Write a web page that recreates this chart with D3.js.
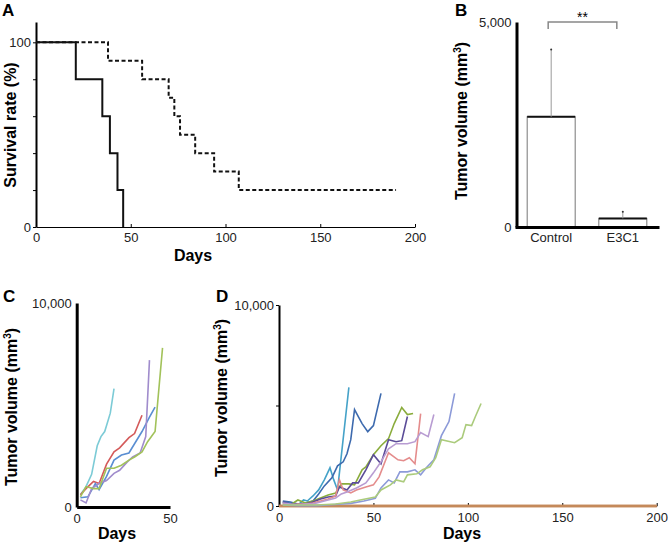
<!DOCTYPE html>
<html>
<head>
<meta charset="utf-8">
<script src="https://cdn.jsdelivr.net/npm/d3@7"></script>
<style>
  body { margin: 0; background: #fff; }
  svg { display: block; font-family: "Liberation Sans", Arial, sans-serif; }
</style>
</head>
<body>
<svg id="chart" width="668" height="545"></svg>
<script>
// ---- A: survival (days, %) ----
const controlSurvival = [[0, 100], [21, 80], [35, 60], [39, 40], [43, 20], [46, 0]];
const e3c1Survival = [[0, 100], [38, 90], [56, 80], [70, 70], [73, 60], [76, 50], [84, 40], [94, 30], [107, 20], [190, 20]];
const dayTicksA = [0, 50, 100, 150, 200];
const survivalTicks = [0, 20, 40, 60, 80, 100];

// ---- B: tumor volume bars ----
const barGroups = ["Control", "E3C1"];
const barMeans = [2690, 210];
const barErrTop = [4330, 370];
const barTicks = [0, 5000];

// ---- C: control mice, [day, mm3] ----
const controlMice = [
  [[2, 600], [5, 1000], [8, 1600], [11, 3000], [13, 3450], [15, 3700], [16, 4000], [18, 4600], [20, 5800]],
  [[2, 600], [5, 900], [9, 1250], [12, 1150], [16, 2100], [20, 2700], [23, 2900], [28, 3400], [31, 3600], [35, 4500]],
  [[2, 450], [6, 500], [10, 1150], [12, 850], [16, 1500], [20, 2300], [24, 2550], [28, 2650], [31, 3100], [35, 3700], [39, 4400], [42, 4900]],
  [[2, 350], [5, 200], [8, 900], [12, 1150], [16, 1300], [20, 1650], [23, 1800], [27, 2200], [30, 2450], [34, 2650], [37, 3450], [39, 7200]],
  [[2, 500], [5, 1000], [9, 900], [12, 900], [16, 1900], [20, 1900], [24, 2050], [28, 2300], [31, 2450], [35, 2700], [38, 3200], [42, 3700], [46, 7800]]
];
const controlColors = ["#7ccbd6", "#d45a5a", "#5a8ed2", "#a08ccc", "#a2c25a"];

// ---- D: E3C1 mice, [day, mm3] ----
const e3c1Mice = [
  [[0, 0], [200, 0]],
  [[0, 0], [200, 0]],
  [[2, 200], [6, 150], [10, 50], [13, 300], [15, 250], [18, 500], [21, 800], [24, 1300], [27, 1900], [29, 1300], [31, 800], [37, 5900]],
  [[2, 250], [6, 200], [10, 100], [14, 150], [18, 250], [21, 600], [24, 1000], [28, 1400], [31, 2000], [34, 2200], [36, 2600], [38, 3300], [40, 4800], [44, 4100], [47, 3700], [50, 4000], [54, 5600]],
  [[2, 150], [6, 50], [10, 300], [14, 150], [18, 250], [22, 400], [26, 550], [30, 650], [33, 1100], [37, 1100], [40, 1050], [44, 1800], [46, 1950], [50, 2550], [54, 3000], [58, 3350], [61, 4100], [65, 4900], [68, 4550], [71, 4600]],
  [[2, 200], [6, 100], [10, 50], [14, 100], [18, 200], [22, 350], [26, 450], [30, 500], [32, 950], [36, 800], [39, 1150], [42, 1150], [46, 1800], [50, 2550], [54, 2100], [58, 3300], [62, 3200], [65, 3250], [68, 4450]],
  [[2, 100], [6, 50], [10, 100], [14, 100], [18, 150], [22, 250], [26, 350], [30, 500], [32, 1300], [34, 800], [38, 650], [41, 800], [46, 950], [50, 1050], [53, 1450], [58, 2650], [63, 2300], [66, 2250], [69, 2400], [72, 2100], [75, 4600]],
  [[2, 150], [6, 100], [10, 50], [14, 100], [18, 100], [22, 200], [26, 300], [30, 400], [33, 600], [36, 700], [41, 900], [46, 1150], [50, 1650], [54, 2200], [58, 2850], [62, 3100], [68, 3100], [72, 3200], [75, 3650], [79, 3450], [82, 4550]],
  [[2, 50], [10, 20], [20, 20], [25, 50], [38, 130], [45, 250], [51, 380], [54, 900], [58, 1300], [61, 1150], [64, 1700], [68, 1700], [72, 1800], [75, 1550], [78, 1900], [82, 2300], [86, 3500], [90, 4200], [93, 5600]],
  [[2, 50], [10, 50], [20, 50], [30, 100], [38, 200], [43, 300], [51, 450], [54, 800], [59, 1050], [62, 1300], [66, 1200], [68, 1550], [73, 1600], [76, 1800], [80, 1950], [83, 2400], [86, 3300], [93, 3150], [97, 3400], [99, 4050], [102, 4000], [104, 4450], [107, 5100]]
];
const e3c1Colors = ["#c4895a", "#c4895a", "#45a2c8", "#3d6aae", "#8aac3c", "#5b4c98", "#e48c8c", "#b89cd2", "#8c9ad8", "#abcb7c"];
const volumeTicks = [0, 10000];

const svg = d3.select("#chart");
svg.append("rect").attr("width", 668).attr("height", 545).attr("fill", "#fff");

function styleAxis(g, w) {
  g.attr("font-family", null).attr("font-size", 13);
  g.selectAll(".tick text").attr("fill", "#222");
  g.select(".domain").attr("stroke-width", w);
}

function panelLabel(txt, x, y) {
  svg.append("text").attr("x", x).attr("y", y)
    .attr("font-size", 17).attr("font-weight", "bold").text(txt);
}

function axisTitle(x, y, txt) {
  svg.append("text").attr("x", x).attr("y", y)
    .attr("text-anchor", "middle").attr("font-size", 16).attr("font-weight", "bold").text(txt);
}

function volumeTitle(x, y) {
  const t = svg.append("text").attr("transform", `translate(${x},${y}) rotate(-90)`)
    .attr("text-anchor", "middle").attr("font-size", 16).attr("font-weight", "bold");
  t.append("tspan").text("Tumor volume (mm");
  t.append("tspan").attr("dy", -6).attr("font-size", 10).text("3");
  t.append("tspan").attr("dy", 6).text(")");
}

// ===== Panel A =====
const xA = d3.scaleLinear().domain([0, 200]).range([36, 415]);
const yA = d3.scaleLinear().domain([0, 111]).range([227, 22]);

svg.append("g").attr("transform", `translate(0,${yA(0)})`)
  .call(d3.axisBottom(xA).tickValues(dayTicksA).tickSizeInner(-3).tickSizeOuter(0).tickPadding(6))
  .call(g => styleAxis(g, 1));

svg.append("g").attr("transform", `translate(${xA(0)},0)`)
  .call(d3.axisLeft(yA).tickValues(survivalTicks).tickSizeInner(3).tickSizeOuter(0).tickPadding(2)
    .tickFormat(d => (d === 0 || d === 100) ? d : ""))
  .call(g => styleAxis(g, 2));

const stepLine = d3.line().x(d => xA(d[0])).y(d => yA(d[1])).curve(d3.curveStepAfter);
svg.append("path").datum(e3c1Survival).attr("d", stepLine)
  .attr("fill", "none").attr("stroke", "#111").attr("stroke-width", 2).attr("stroke-dasharray", "4,2.5");
svg.append("path").datum(controlSurvival).attr("d", stepLine)
  .attr("fill", "none").attr("stroke", "#111").attr("stroke-width", 2);

panelLabel("A", 2, 16);
axisTitle(193, 261, "Days");
svg.append("text").attr("transform", "translate(16,125) rotate(-90)")
  .attr("text-anchor", "middle").attr("font-size", 16).attr("font-weight", "bold").text("Survival rate (%)");

// ===== Panel B =====
const xB = d3.scaleBand().domain(barGroups).range([515, 659]).paddingInner(0.33).paddingOuter(0.17);
const yB = d3.scaleLinear().domain([0, 5000]).range([227, 22]);

svg.selectAll(".bar").data(barGroups).join("rect").attr("class", "bar")
  .attr("x", d => xB(d)).attr("width", xB.bandwidth())
  .attr("y", (d, i) => yB(barMeans[i])).attr("height", (d, i) => yB(0) - yB(barMeans[i]))
  .attr("fill", "#fff").attr("stroke", "#777").attr("stroke-width", 1);
svg.selectAll(".bartop").data(barGroups).join("line").attr("class", "bartop")
  .attr("x1", d => xB(d)).attr("x2", d => xB(d) + xB.bandwidth())
  .attr("y1", (d, i) => yB(barMeans[i])).attr("y2", (d, i) => yB(barMeans[i]))
  .attr("stroke", "#111").attr("stroke-width", 2);
svg.selectAll(".err").data(barGroups).join("line").attr("class", "err")
  .attr("x1", d => xB(d) + xB.bandwidth() / 2).attr("x2", d => xB(d) + xB.bandwidth() / 2)
  .attr("y1", (d, i) => yB(barMeans[i])).attr("y2", (d, i) => yB(barErrTop[i]))
  .attr("stroke", "#999").attr("stroke-width", 1);
svg.selectAll(".errcap").data(barGroups).join("circle").attr("class", "errcap")
  .attr("cx", d => xB(d) + xB.bandwidth() / 2).attr("cy", (d, i) => yB(barErrTop[i]))
  .attr("r", 1).attr("fill", "#333");

svg.append("g").attr("transform", `translate(0,${yB(0)})`)
  .call(d3.axisBottom(xB).tickSize(0).tickPadding(6))
  .call(g => styleAxis(g, 3));
svg.append("g").attr("transform", `translate(516.5,0)`)
  .call(d3.axisLeft(yB).tickValues(barTicks).tickSize(0).tickPadding(5).tickFormat(d3.format(",")))
  .call(g => styleAxis(g, 3));

const bx1 = xB("Control") + xB.bandwidth() / 2 - 3;
const bx2 = xB("E3C1") + xB.bandwidth() / 2 - 6;
svg.append("path")
  .attr("d", `M${bx1},${yB(4830)}V${yB(5000)}H${bx2}V${yB(4830)}`)
  .attr("fill", "none").attr("stroke", "#888").attr("stroke-width", 1.5);
svg.append("text").attr("x", (bx1 + bx2) / 2).attr("y", 22).attr("text-anchor", "middle")
  .attr("font-size", 14).text("**");

panelLabel("B", 455, 16);
volumeTitle(467, 121);

// ===== Panel C =====
const xC = d3.scaleLinear().domain([0, 50]).range([76.7, 170]);
const yC = d3.scaleLinear().domain([0, 10000]).range([507, 303]);
const lineC = d3.line().x(d => xC(d[0])).y(d => yC(d[1]));

svg.selectAll(".mouseC").data(controlMice).join("path").attr("class", "mouseC")
  .attr("d", lineC).attr("fill", "none")
  .attr("stroke", (d, i) => controlColors[i]).attr("stroke-width", 1.6);

svg.append("g").attr("transform", `translate(0,${yC(0)})`)
  .call(d3.axisBottom(xC).tickValues([0, 50]).tickSize(0).tickPadding(7))
  .call(g => styleAxis(g, 3));
svg.append("g").attr("transform", `translate(${xC(0)},0)`)
  .call(d3.axisLeft(yC).tickValues(volumeTicks).tickSize(0).tickPadding(5).tickFormat(d3.format(",")))
  .call(g => styleAxis(g, 3));

panelLabel("C", 3, 302);
axisTitle(117, 539, "Days");
volumeTitle(17, 407);

// ===== Panel D =====
const xD = d3.scaleLinear().domain([0, 200]).range([279, 656.7]);
const yD = d3.scaleLinear().domain([0, 10000]).range([506, 305]);
const lineD = d3.line().x(d => xD(d[0])).y(d => yD(d[1]));

svg.append("g").attr("transform", `translate(0,${yD(0)})`)
  .call(d3.axisBottom(xD).tickValues(dayTicksA).tickSizeInner(-3).tickSizeOuter(0).tickPadding(7))
  .call(g => styleAxis(g, 1));
svg.append("g").attr("transform", `translate(${xD(0)},0)`)
  .call(d3.axisLeft(yD).tickValues([0, 5000, 10000]).tickSizeInner(3).tickSizeOuter(0).tickPadding(2)
    .tickFormat(d => d === 5000 ? "" : d3.format(",")(d)))
  .call(g => styleAxis(g, 2));

svg.selectAll(".mouseD").data(e3c1Mice).join("path").attr("class", "mouseD")
  .attr("d", lineD).attr("fill", "none")
  .attr("stroke", (d, i) => e3c1Colors[i])
  .attr("stroke-width", (d, i) => i < 2 ? 2.5 : 1.6);

panelLabel("D", 216, 302);
axisTitle(462, 539, "Days");
volumeTitle(227, 398);
</script>
</body>
</html>
